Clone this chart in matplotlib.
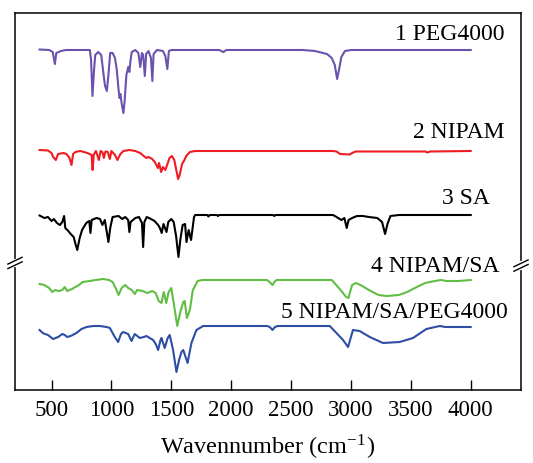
import matplotlib
matplotlib.use("Agg")
import matplotlib.pyplot as plt

# espectros FTIR (numero de onda, transmitancia relativa)
w_peg = [400, 480, 510, 528, 540, 580, 620, 820, 830, 842, 855, 865, 890, 915, 935, 947, 962, 975, 990,
         1010, 1030, 1045, 1060, 1068, 1075, 1085, 1100, 1110, 1125, 1140, 1150, 1160, 1170, 1200, 1225,
         1241, 1255, 1265, 1279, 1290, 1310, 1330, 1342, 1352, 1380, 1430, 1450, 1467, 1480, 1500, 1900,
         1935, 1960, 2600, 2700, 2800, 2840, 2865, 2885, 2900, 2920, 2950, 3000, 4000]
t_peg = [100.5, 100, 98, 86, 97, 99, 100, 100, 90, 54, 80, 95, 98, 95, 75, 64, 59, 75, 97,
         97, 92, 80, 60, 52, 56, 47, 37, 48, 75, 83, 78, 90, 98, 100, 97,
         83, 97, 95, 74, 96, 99, 92, 69, 96, 100, 99, 94, 81, 99, 100, 100,
         98, 100, 100, 99, 96, 92, 85, 71, 80, 93, 99, 100, 100]

w_nipam = [400, 470, 500, 513, 536, 555, 600, 625, 650, 667, 680, 700, 740, 800, 835, 843, 852, 870, 885,
           895, 910, 925, 937, 950, 970, 987, 1000, 1030, 1050, 1075, 1100, 1150, 1200, 1240, 1270, 1293,
           1310, 1340, 1362, 1388, 1398, 1415, 1430, 1450, 1465, 1485, 1505, 1525, 1545, 1557, 1570, 1590,
           1610, 1625, 1655, 1700, 2850, 2880, 2910, 2990, 3010, 3040, 3620, 3640, 3660, 4000]
t_nipam = [101, 100.5, 98, 94, 91, 97, 98, 97, 93, 86, 97, 99, 100, 98, 96, 81, 96, 100, 95,
           91, 100, 99, 93, 99.5, 99, 92, 100, 96, 91, 97, 100, 101, 100, 98, 95, 93,
           94, 92, 89, 83, 88, 79, 84, 81, 86, 93, 95, 91, 79, 72, 76, 87,
           91, 95, 99, 100, 100, 99.5, 97, 96.5, 98, 99.5, 99.5, 98.5, 99.5, 100]

w_sa = [400, 440, 470, 500, 520, 545, 570, 590, 605, 615, 640, 660, 685, 700, 715, 735, 755, 790, 815,
        825, 835, 875, 905, 925, 945, 975, 990, 1010, 1060, 1090, 1115, 1140, 1150, 1160, 1200, 1230,
        1255, 1265, 1275, 1295, 1330, 1360, 1390, 1405, 1420, 1435, 1460, 1475, 1500, 1520, 1540, 1560,
        1575, 1595, 1615, 1627, 1645, 1665, 1690, 1700, 1800, 1810, 1820, 1880, 1890, 1900, 2350, 2360,
        2370, 2850, 2880, 2920, 2945, 2965, 2980, 3010, 3050, 3100, 3150, 3220, 3260, 3285, 3305, 3330,
        3400, 4000]
t_sa = [99.5, 97, 98, 94, 96, 92, 90, 93, 99, 87, 84, 81, 78, 71, 65, 77, 85, 92, 94,
        82, 95, 97, 96, 90, 95, 73, 87, 98, 99, 96, 98, 95, 83, 93, 97, 98,
        92, 68, 93, 98, 96, 94, 90, 87, 82, 91, 83, 93, 96, 93, 79, 58,
        75, 90, 91, 73, 85, 75, 98, 100, 100, 98.5, 100, 100, 99, 100, 100, 99,
        100, 100, 98, 95, 97, 87, 95, 97, 99, 99, 98, 97, 93, 81, 91, 99,
        100, 100]

w_ns = [400, 440, 480, 505, 530, 560, 590, 610, 630, 670, 700, 730, 760, 820, 870, 930, 980, 1010, 1035,
        1060, 1085, 1115, 1140, 1170, 1195, 1215, 1260, 1300, 1340, 1370, 1395, 1418, 1437, 1458, 1478,
        1500, 1520, 1550, 1575, 1600, 1612, 1630, 1655, 1680, 1720, 1760, 2300, 2330, 2345, 2360, 2380,
        2840, 2870, 2920, 2960, 2980, 2995, 3010, 3040, 3080, 3150, 3230, 3300, 3400, 3470, 3550, 3620,
        3700, 3750, 3800, 3900, 4000]
t_ns = [96, 95, 92, 88, 90, 89, 90, 93, 89, 91, 93, 95, 98, 99, 100, 101, 100, 98, 92,
        85, 92, 95, 92, 90, 86, 90, 89, 87, 89, 87, 79, 77, 88, 77, 88,
        92, 77, 54, 68, 78, 79, 62, 70, 90, 99, 100, 100, 97, 95, 98, 100,
        100, 96, 89, 83, 82, 89, 95, 97, 95, 90, 85, 84, 85, 88, 93, 97,
        99, 100, 99, 99, 100]

w_nsp = [400, 430, 470, 513, 555, 590, 611, 630, 660, 708, 750, 792, 850, 903, 960, 987, 1028, 1056, 1080,
         1098, 1140, 1168, 1195, 1237, 1270, 1293, 1320, 1348, 1370, 1390, 1410, 1418, 1445, 1470, 1487,
         1515, 1543, 1565, 1585, 1600, 1636, 1668, 1710, 1766, 2300, 2322, 2345, 2365, 2390, 2823, 2879,
         2934, 2976, 3017, 3073, 3157, 3268, 3407, 3518, 3630, 3741, 3790, 4000]
t_nsp = [96, 92.7, 91, 87, 89, 92, 91, 89, 90, 93, 97, 99, 100, 100, 99, 98, 89, 84, 92,
         94, 92, 85, 92, 88, 89, 90, 88, 86, 82, 76, 86, 88, 78, 88, 91,
         76, 54, 66, 74, 76, 63, 83, 96, 100, 100, 99, 96, 99, 100, 100, 93,
         86, 79, 96, 95, 89, 83, 84, 88, 97, 100, 99, 99]

nomes = ["1 PEG4000", "2 NIPAM", "3 SA", "4 NIPAM/SA", "5 NIPAM/SA/PEG4000"]
cores = ["#6a52ad", "#ee1d23", "#000000", "#62bd45", "#2e4ea6"]
deslocamentos = [240, 139, 75, 10, -36]
pos_nome = [(4284, 355), (4284, 257), (4159, 192), (4242, 123), (4309, 78)]
ticks_x = [500, 1000, 1500, 2000, 2500, 3000, 3500, 4000]

plt.rcParams['font.family'] = ['Liberation Serif', 'DejaVu Serif']
plt.rcParams['mathtext.fontset'] = 'stix'

fig = plt.figure(figsize=(5.33, 4.63), dpi=100)
ax = fig.add_axes([15/533, 73/463, 506/533, 377/463])

series = [(w_peg, t_peg), (w_nipam, t_nipam), (w_sa, t_sa), (w_ns, t_ns), (w_nsp, t_nsp)]
for (w, t), c, d in zip(series, cores, deslocamentos):
    ax.plot(w, [v + d for v in t], color=c, lw=1.5)

for nome, (px, py) in zip(nomes, pos_nome):
    ax.text(px, py, nome, ha='right', va='center', fontsize=17)

ax.set_xlim(195, 4420)
ax.set_ylim(0, 377)
ax.set_xticks(ticks_x)
ax.set_yticks([])
ax.tick_params(axis='x', direction='in', length=7, width=1, labelsize=16.5, pad=7)
for s in ax.spines.values():
    s.set_linewidth(1.1)
ax.set_xlabel('Wavennumber (cm$^{\\mathregular{-1}}$)', fontsize=17.5, labelpad=8.5)

# marcas de quebra no eixo y (dos dois lados)
for xb, yb in [(0, 0.337), (1, 0.33)]:
    ax.plot([xb, xb], [yb - 0.006, yb + 0.006], color='white', lw=3,
            transform=ax.transAxes, clip_on=False, zorder=5)
    for dy in (-0.006, 0.006):
        ax.plot([xb - 0.014, xb + 0.014], [yb + dy - 0.009, yb + dy + 0.009], color='black', lw=1,
                transform=ax.transAxes, clip_on=False, zorder=6)

fig.savefig("out.png", dpi=100)
